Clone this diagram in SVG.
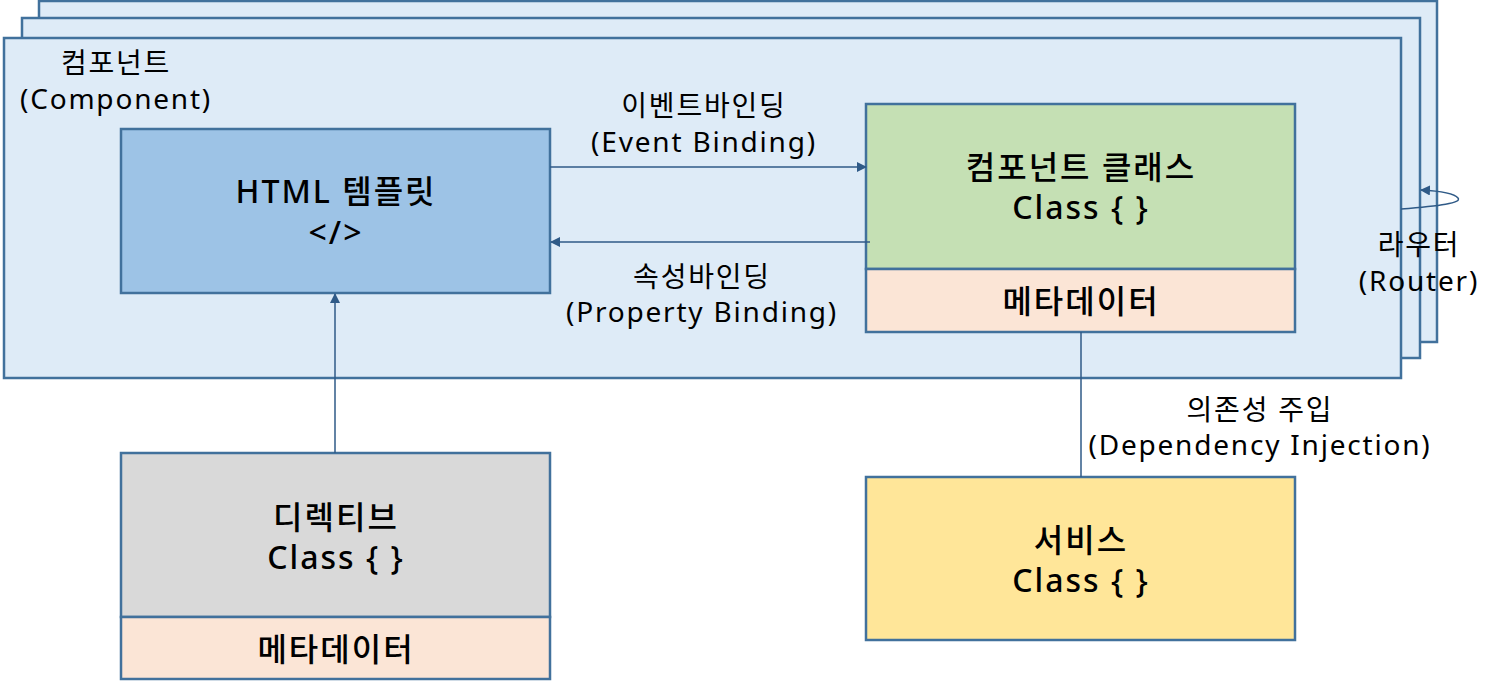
<svg xmlns="http://www.w3.org/2000/svg" width="1501" height="693" viewBox="0 0 1501 693">
<style>
.frame{fill:#DEEBF7;stroke:#41719C;stroke-width:2.5}
.box{stroke:#41719C;stroke-width:2.5}
.t{font-family:"Noto Sans","Noto Sans CJK KR",sans-serif;fill:#000;text-anchor:middle;dominant-baseline:central}
.lbl{font-size:28px;letter-spacing:1.8px}
.big{font-size:32px;letter-spacing:2px;font-weight:500}
.conn{stroke:#2F5A87;stroke-width:1.5;fill:none}
</style>
<defs>
<marker id="ah" markerWidth="10" markerHeight="10" refX="9" refY="5" orient="auto" markerUnits="userSpaceOnUse">
<path d="M0,0 L10,5 L0,10 z" fill="#2F5A87"/>
</marker>
</defs>
<g id="component-stack">
<rect class="frame" x="39" y="1" width="1398" height="341"/>
<rect class="frame" x="22" y="18" width="1398" height="340"/>
<rect class="frame" x="4" y="38" width="1397" height="340"/>
<text class="t lbl" x="116" y="62">컴포넌트</text>
<text class="t lbl" x="116" y="98">(Component)</text>
</g>
<g id="html-template">
<rect class="box" x="121" y="129" width="429" height="164" fill="#9DC3E6"/>
<text class="t big" x="336" y="190">HTML 템플릿</text>
<text class="t big" x="336" y="231">&lt;/&gt;</text>
</g>
<g id="component-class">
<rect class="box" x="866" y="104" width="429" height="165" fill="#C5E0B4"/>
<rect class="box" x="866" y="269" width="429" height="63" fill="#FBE5D6"/>
<text class="t big" x="1081" y="166">컴포넌트 클래스</text>
<text class="t big" x="1081" y="206">Class { }</text>
<text class="t big" x="1081" y="300">메타데이터</text>
</g>
<g id="directive">
<rect class="box" x="121" y="453" width="429" height="164" fill="#D9D9D9"/>
<rect class="box" x="121" y="617" width="429" height="62" fill="#FBE5D6"/>
<text class="t big" x="336" y="516">디렉티브</text>
<text class="t big" x="336" y="556">Class { }</text>
<text class="t big" x="336" y="648">메타데이터</text>
</g>
<g id="service">
<rect class="box" x="866" y="477" width="429" height="163" fill="#FFE699"/>
<text class="t big" x="1081" y="539">서비스</text>
<text class="t big" x="1081" y="579">Class { }</text>
</g>
<g id="connectors">
<line class="conn" x1="550" y1="167" x2="866" y2="167" marker-end="url(#ah)"/>
<line class="conn" x1="870" y1="242" x2="551" y2="242" marker-end="url(#ah)"/>
<line class="conn" x1="335" y1="453" x2="335" y2="294" marker-end="url(#ah)"/>
<line class="conn" x1="1081" y1="332" x2="1081" y2="477"/>
<path class="conn" d="M1401,209 C1440,206 1462,203 1458,198 C1454,193 1440,191 1421,190" marker-end="url(#ah)"/>
</g>
<g id="labels">
<text class="t lbl" x="704" y="105">이벤트바인딩</text>
<text class="t lbl" x="704" y="141">(Event Binding)</text>
<text class="t lbl" x="702" y="276">속성바인딩</text>
<text class="t lbl" x="702" y="311">(Property Binding)</text>
<text class="t lbl" x="1419" y="244">라우터</text>
<text class="t lbl" x="1419" y="280">(Router)</text>
<text class="t lbl" x="1260" y="409">의존성 주입</text>
<text class="t lbl" x="1260" y="444">(Dependency Injection)</text>
</g>
</svg>
